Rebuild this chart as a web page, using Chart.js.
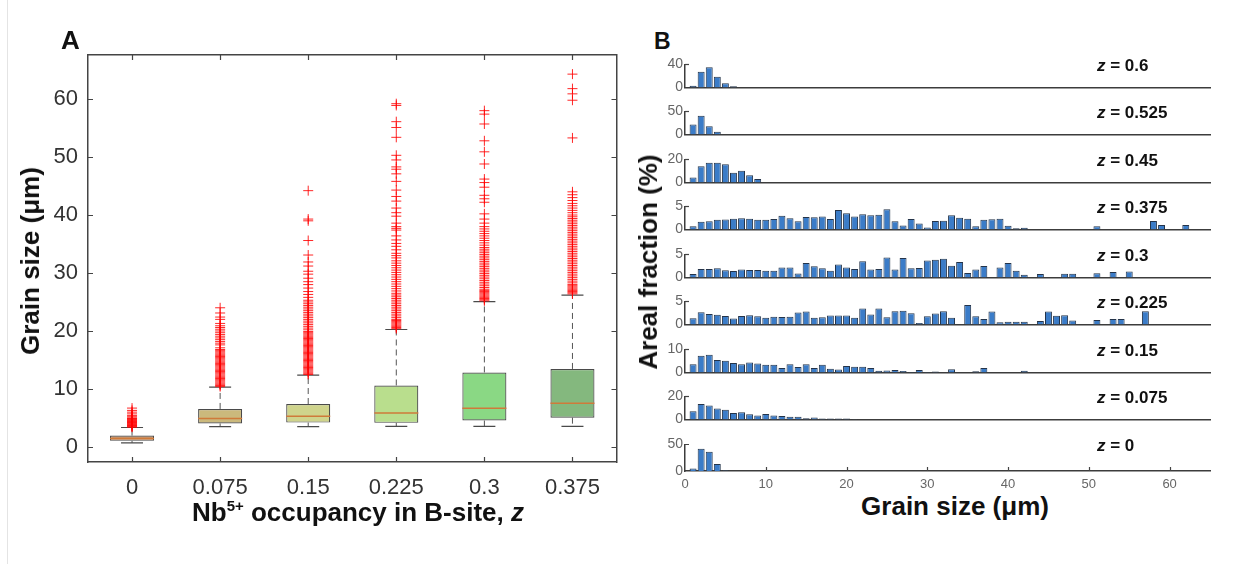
<!DOCTYPE html>
<html>
<head>
<meta charset="utf-8">
<script src="https://cdn.jsdelivr.net/npm/chart.js@4.4.1/dist/chart.umd.min.js"></script>
<style>
  html, body { margin: 0; padding: 0; background: #fff; }
  body { width: 1252px; height: 564px; position: relative; overflow: hidden;
         font-family: 'Liberation Sans', Arial, Helvetica, sans-serif; }
  canvas { position: absolute; }
  .lbl { position: absolute; font-weight: bold; color: #111; white-space: nowrap; line-height: 1; }
  .rot { transform: translate(-50%, -50%) rotate(-90deg); }
  .mid { transform: translate(-50%, -50%); }
  .zl { position: absolute; font-weight: bold; font-size: 17px; color: #111; white-space: nowrap;
        line-height: 1; transform: translateY(-50%); }
  .edge { position: absolute; left: 7px; top: 0; width: 1px; height: 564px; background: #e4e4e4; }
</style>
</head>
<body>
<div class="edge"></div>
<canvas id="boxChart" width="640" height="540" style="left:0;top:0"></canvas>

<div class="lbl" style="left:61px;top:27px;font-size:26px">A</div>
<div class="lbl" style="left:654px;top:30px;font-size:23px">B</div>
<div class="lbl rot" style="left:30px;top:261px;font-size:26px">Grain size (μm)</div>
<div class="lbl mid" style="left:358px;top:512px;font-size:26px">Nb<span style="font-size:15px;position:relative;top:-10px">5+</span> occupancy in B-site, <i>z</i></div>
<div class="lbl rot" style="left:648px;top:262px;font-size:26px">Areal fraction (%)</div>
<div class="lbl mid" style="left:955px;top:506px;font-size:26px">Grain size (μm)</div>

<script>
// ---------- Panel A: box plot of grain size per Nb occupancy ----------
const boxCats = ['0', '0.075', '0.15', '0.225', '0.3', '0.375'];
const boxLow = [0.7, 3.5, 3.5, 3.55, 3.55, 3.55];
const boxQ1 = [1.05, 4.05, 4.2, 4.15, 4.55, 5.05];
const boxMedian = [1.45, 4.9, 5.3, 5.85, 6.65, 7.55];
const boxQ3 = [1.95, 6.55, 7.4, 10.6, 12.85, 13.45];
const boxHigh = [3.35, 10.3, 12.4, 20.25, 25.05, 26.2];
const boxColors = ['#c9976f', '#cbb97c', '#cfd48c', '#b9de8d', '#8ad884', '#84b87e'];
const yTicksA = [0, 10, 20, 30, 40, 50, 60];

// outliers, one list per category
const out0 = [3.4, 3.5, 3.6, 3.7, 3.8, 3.9, 4.0, 4.1, 4.2, 4.3, 4.4, 4.5, 4.6, 4.7, 4.8, 4.9, 5.0, 5.2, 5.4, 5.7, 6.0, 6.3, 6.7];
const out0075 = [10.4, 10.6, 10.8, 11.0, 11.2, 11.4, 11.6, 11.8, 12.0, 12.2, 12.4, 12.6, 12.8, 13.0, 13.2, 13.4, 13.6, 13.8,
  14.0, 14.2, 14.4, 14.6, 14.8, 15.0, 15.2, 15.4, 15.6, 15.8, 16.0, 16.2, 16.4, 16.6, 16.8, 17.1, 17.6, 17.9, 18.2, 18.5,
  18.8, 19.1, 19.4, 19.7, 20.0, 20.3, 20.6, 20.9, 21.3, 22.0, 22.4, 23.1, 24.0];
const out015 = [12.5, 12.7, 12.9, 13.1, 13.3, 13.5, 13.7, 13.9, 14.1, 14.3, 14.5, 14.7, 14.9, 15.1, 15.3, 15.5, 15.7, 15.9,
  16.1, 16.3, 16.5, 16.7, 16.9, 17.1, 17.3, 17.5, 17.7, 17.9, 18.1, 18.3, 18.5, 18.7, 18.9, 19.1, 19.3, 19.5, 19.7, 19.9,
  20.2, 20.5, 20.8, 21.1, 21.4, 21.7, 22.0, 22.3, 22.6, 22.9, 23.2, 23.5, 23.8, 24.1, 24.4, 24.7, 25.0, 25.3, 25.8, 26.3,
  26.8, 27.4, 28.0, 28.5, 29.1, 29.8, 30.3, 31.2, 31.9, 33.1, 35.6, 39.0, 39.3, 44.2];
const out0225 = [20.4, 20.6, 20.8, 21.0, 21.2, 21.4, 21.6, 21.8, 22.0, 22.3, 22.6, 22.9, 23.2, 23.5, 23.8, 24.1, 24.4, 24.7,
  25.0, 25.3, 25.6, 25.9, 26.2, 26.5, 26.9, 27.3, 27.7, 28.1, 28.5, 28.9, 29.3, 29.7, 30.1, 30.5, 30.9, 31.3, 31.7, 32.1,
  32.6, 33.0, 33.4, 34.0, 34.6, 35.1, 35.7, 36.4, 37.4, 37.7, 38.0, 38.6, 39.8, 40.4, 41.2, 42.4, 43.2, 44.3, 45.8, 47.1,
  47.9, 48.3, 49.5, 50.3, 53.4, 55.1, 56.1, 58.9, 59.2];
const out03 = [25.2, 25.4, 25.6, 25.8, 26.0, 26.2, 26.4, 26.6, 26.8, 27.0, 27.2, 27.5, 27.8, 28.1, 28.4, 28.7, 29.0, 29.3,
  29.6, 29.9, 30.2, 30.5, 30.8, 31.1, 31.4, 31.7, 32.0, 32.3, 32.6, 32.9, 33.2, 33.5, 33.8, 34.1, 34.4, 34.8, 35.2, 35.6,
  36.0, 36.4, 36.8, 37.2, 37.6, 38.0, 38.6, 39.3, 40.2, 42.2, 42.8, 43.4, 44.8, 45.6, 46.2, 48.8, 50.9, 52.8, 55.7, 57.4, 58.0];
const out0375 = [26.4, 26.6, 26.8, 27.0, 27.2, 27.4, 27.6, 27.8, 28.0, 28.3, 28.6, 28.9, 29.2, 29.5, 29.8, 30.1, 30.4, 30.7,
  31.0, 31.3, 31.6, 31.9, 32.2, 32.5, 32.8, 33.1, 33.4, 33.7, 34.0, 34.3, 34.6, 34.9, 35.2, 35.5, 35.8, 36.1, 36.4, 36.7,
  37.0, 37.3, 37.6, 37.9, 38.2, 38.5, 38.8, 39.1, 39.4, 39.7, 40.0, 40.4, 40.8, 41.2, 41.6, 42.0, 42.5, 43.0, 43.5, 44.0,
  53.3, 59.8, 60.9, 61.8, 64.3];
const boxOutliers = [out0, out0075, out015, out0225, out03, out0375];

// ---------- Panel B: areal fraction histograms (bins of 1 µm, starting at 1 µm) ----------
const histLabels = ['0.6', '0.525', '0.45', '0.375', '0.3', '0.225', '0.15', '0.075', '0'];
const hist06 = [3, 27.5, 35, 18.5, 7.5, 2.3];
const hist0525 = [22, 40.5, 18, 6];
const hist045 = [4.5, 14, 17.2, 17.2, 15.8, 8.5, 10.3, 6.4, 3];
const hist0375 = [0.7, 1.7, 1.8, 2.1, 2.2, 2.35, 2.45, 2.35, 2.1, 2.1,
  2.3, 3.0, 2.45, 1.8, 2.7, 2.65, 2.85, 2.3, 4.25, 3.55,
  2.85, 3.3, 3.1, 3.2, 4.4, 1.8, 0.9, 2.3, 1.3, 0.45,
  1.85, 1.9, 3.1, 2.55, 2.35, 0.7, 2.1, 2.25, 2.35, 0.85,
  0.3, 0.4, 0, 0, 0, 0, 0, 0, 0, 0,
  0.7, 0, 0, 0, 0, 0, 0, 1.85, 1.0, 0,
  0, 1.0];
const hist03 = [0.75, 1.85, 1.85, 2.0, 1.6, 1.4, 1.75, 1.65, 1.65, 1.5,
  1.5, 2.15, 2.15, 0.9, 3.15, 2.45, 2.0, 1.5, 2.8, 2.15,
  1.85, 3.5, 1.75, 1.85, 4.35, 1.75, 4.25, 2.0, 2.05, 3.7,
  3.85, 4.05, 2.55, 3.35, 1.0, 1.75, 2.5, 0, 2.15, 3.15,
  1.5, 0.6, 0, 0.75, 0, 0, 0.85, 0.85, 0, 0,
  0.95, 0, 1.2, 0, 1.3];
const hist0225 = [1.35, 2.65, 2.3, 2.1, 1.85, 1.3, 1.85, 2.0, 1.8, 1.45,
  1.7, 1.65, 1.7, 2.6, 2.8, 1.45, 1.6, 1.95, 1.95, 1.95,
  1.45, 3.45, 2.2, 3.45, 1.6, 2.9, 3.0, 2.45, 0.35, 1.8,
  2.4, 2.9, 1.5, 0, 4.2, 1.8, 1.2, 2.8, 0.5, 0.6,
  0.6, 0.6, 0, 0.75, 2.8, 1.9, 2.0, 0.9, 0, 0,
  1.0, 0, 1.2, 1.2, 0, 0, 2.9];
const hist015 = [3.65, 7.3, 7.65, 5.45, 5.1, 4.1, 3.55, 4.35, 3.9, 3.35,
  3.35, 2.0, 3.55, 2.45, 3.65, 2.0, 3.35, 1.65, 1.35, 2.8,
  2.55, 2.55, 2.0, 0.8, 0.9, 1.1, 0.7, 0.25, 1.15, 0.25,
  0.5, 0, 1.45, 0, 0, 0.55, 2.0, 0, 0, 0,
  0, 0.8];
const hist0075 = [7.2, 13.5, 12.2, 9.5, 8.5, 5.7, 6.3, 4.7, 3.5, 4.8,
  3.6, 3.0, 2.5, 2.5, 1.1, 1.9, 1.0, 1.0, 1.0, 1.0, 0.4];
const hist0 = [4.5, 42, 36, 13, 1];
const histSeries = [hist06, hist0525, hist045, hist0375, hist03, hist0225, hist015, hist0075, hist0];
const histMax = [40, 50, 20, 5, 5, 5, 10, 20, 50];
const histTicks = [[0, 20, 40], [0, 50], [0, 10, 20], [0, 5], [0, 5], [0, 5], [0, 5, 10], [0, 10, 20], [0, 50]];
const xTicksB = [0, 10, 20, 30, 40, 50, 60];

const FONT = "'Liberation Sans', Arial, Helvetica, sans-serif";

// MATLAB style tick marks that point into the plot area
const inwardTicks = {
  id: 'inwardTicks',
  afterDraw(chart, args, opts) {
    const ctx = chart.ctx, area = chart.chartArea;
    const len = opts.length || 5;
    const xs = chart.scales.x, ys = chart.scales.y;
    ctx.save();
    ctx.strokeStyle = opts.color || '#444';
    ctx.lineWidth = opts.width || 1;
    ctx.beginPath();
    (opts.xSides || []).forEach(side => {
      xs.ticks.forEach(t => {
        const px = Math.round(xs.getPixelForValue(t.value)) + 0.5;
        if (px <= area.left + 1 || px >= area.right - 1) return;
        const y0 = side === 'top' ? area.top : area.bottom;
        const dir = side === 'top' ? 1 : -1;
        ctx.moveTo(px, y0);
        ctx.lineTo(px, y0 + dir * len);
      });
    });
    (opts.ySides || []).forEach(side => {
      ys.ticks.forEach(t => {
        const py = Math.round(ys.getPixelForValue(t.value)) + 0.5;
        if (py >= area.bottom - 1) return;
        const x0 = side === 'right' ? area.right : area.left;
        const dir = side === 'right' ? -1 : 1;
        ctx.moveTo(x0, py);
        ctx.lineTo(x0 + dir * len, py);
      });
    });
    ctx.stroke();
    ctx.restore();
  }
};

// ---------- build panel A ----------
const whiskerPts = [];
const capPts = [];
const medianPts = [];
const outlierPts = [];
boxCats.forEach((c, i) => {
  const x = i + 1;
  whiskerPts.push({x: x, y: boxQ3[i]}, {x: x, y: boxHigh[i]}, {x: x, y: null},
                  {x: x, y: boxQ1[i]}, {x: x, y: boxLow[i]}, {x: x, y: null});
  capPts.push({x: x, y: boxLow[i]}, {x: x, y: boxHigh[i]});
  medianPts.push({x: x, y: boxMedian[i]});
  boxOutliers[i].forEach(v => outlierPts.push({x: x, y: v}));
});

const frameA = {color: '#444', width: 1.5};
const hiddenGrid = {display: false, drawTicks: false};

new Chart(document.getElementById('boxChart'), {
  type: 'bar',
  data: {
    datasets: [
      {
        type: 'line', data: whiskerPts, borderColor: '#555', borderWidth: 1,
        borderDash: [6, 4], pointRadius: 0, spanGaps: false, order: 5
      },
      {
        type: 'bar', data: boxCats.map((c, i) => ({x: i + 1, y: [boxQ1[i], boxQ3[i]]})),
        backgroundColor: boxColors, borderColor: '#4a4a4a', borderWidth: 1.2, borderSkipped: false,
        categoryPercentage: 1, barPercentage: 0.5, order: 4
      },
      {
        type: 'scatter', data: capPts, pointStyle: 'line', pointRadius: 11,
        borderColor: '#4a4a4a', borderWidth: 1.2, order: 3
      },
      {
        type: 'scatter', data: outlierPts, pointStyle: 'cross', pointRadius: 5,
        borderColor: 'rgba(255, 0, 0, 0.85)', borderWidth: 1, order: 2
      },
      {
        type: 'scatter', data: medianPts, pointStyle: 'line', pointRadius: 22,
        borderColor: '#cf7a3a', borderWidth: 1.5, order: 1
      }
    ]
  },
  options: {
    responsive: false,
    animation: false,
    events: [],
    layout: {padding: {top: 55, right: 20, left: 0, bottom: 0}},
    plugins: {
      legend: {display: false},
      tooltip: {enabled: false},
      inwardTicks: {xSides: ['bottom', 'top'], ySides: ['left', 'right'], length: 5, color: '#444', width: 1.2}
    },
    scales: {
      x: {
        type: 'linear', min: 0.5, max: 6.5, offset: false,
        afterBuildTicks: s => { s.ticks = boxCats.map((c, i) => ({value: i + 1})); },
        afterFit: s => { s.height = 78; },
        ticks: {
          callback: v => boxCats[Math.round(v) - 1], autoSkip: false, maxRotation: 0,
          font: {family: FONT, size: 22}, color: '#333', padding: 13
        },
        grid: hiddenGrid, border: frameA
      },
      y: {
        min: -2.6, max: 67.6,
        afterBuildTicks: s => { s.ticks = yTicksA.map(v => ({value: v})); },
        afterFit: s => { s.width = 88; },
        ticks: {font: {family: FONT, size: 22}, color: '#333', padding: 10},
        grid: hiddenGrid, border: frameA
      },
      x2: {
        type: 'linear', position: 'top', offset: false, ticks: {display: false},
        afterFit: s => { s.height = 0; }, grid: hiddenGrid, border: frameA
      },
      y2: {
        type: 'linear', position: 'right', ticks: {display: false},
        afterFit: s => { s.width = 0; }, grid: hiddenGrid, border: frameA
      }
    }
  },
  plugins: [inwardTicks]
});

// ---------- build panel B ----------
const frameB = {color: '#3c3c3c', width: 1.5};

histSeries.forEach((vals, k) => {
  const last = k === histSeries.length - 1;
  const base = Math.round(91 + k * 47.46);   // pixel row of the zero line

  const cv = document.createElement('canvas');
  cv.width = 615;
  cv.height = last ? 80 : 44;
  cv.style.left = '600px';
  cv.style.top = (base - 37) + 'px';
  document.body.appendChild(cv);

  const lbl = document.createElement('div');
  lbl.className = 'zl';
  lbl.style.left = '1097px';
  lbl.style.top = (base - 26) + 'px';
  lbl.innerHTML = '<i>z</i> = ' + histLabels[k];
  document.body.appendChild(lbl);

  const pts = [];
  vals.forEach((v, i) => { if (v > 0) pts.push({x: i + 1, y: v}); });

  new Chart(cv, {
    type: 'bar',
    data: {
      datasets: [{
        data: pts, backgroundColor: '#3b7cc8', borderColor: '#24344a', borderWidth: 1,
        categoryPercentage: 1, barPercentage: 0.86
      }]
    },
    options: {
      responsive: false,
      animation: false,
      events: [],
      layout: {padding: {top: 7, right: 5, left: 0, bottom: last ? 13 : 7}},
      plugins: {
        legend: {display: false},
        tooltip: {enabled: false},
        inwardTicks: {xSides: last ? ['bottom'] : [], ySides: ['left'], length: 4, color: '#444', width: 1.2}
      },
      scales: {
        x: {
          type: 'linear', min: 0, max: 65, offset: false,
          afterBuildTicks: s => { s.ticks = xTicksB.map(v => ({value: v})); },
          afterFit: s => { s.height = last ? 30 : 0; },
          ticks: {display: last, font: {family: FONT, size: 13}, color: '#666', padding: 6, maxRotation: 0},
          grid: hiddenGrid, border: frameB
        },
        y: {
          min: 0, max: histMax[k],
          afterBuildTicks: s => { s.ticks = histTicks[k].map(v => ({value: v})); },
          afterFit: s => { s.width = 85; },
          ticks: {font: {family: FONT, size: 14}, color: '#666', padding: 2},
          grid: hiddenGrid, border: frameB
        }
      }
    },
    plugins: [inwardTicks]
  });
});
</script>
</body>
</html>
